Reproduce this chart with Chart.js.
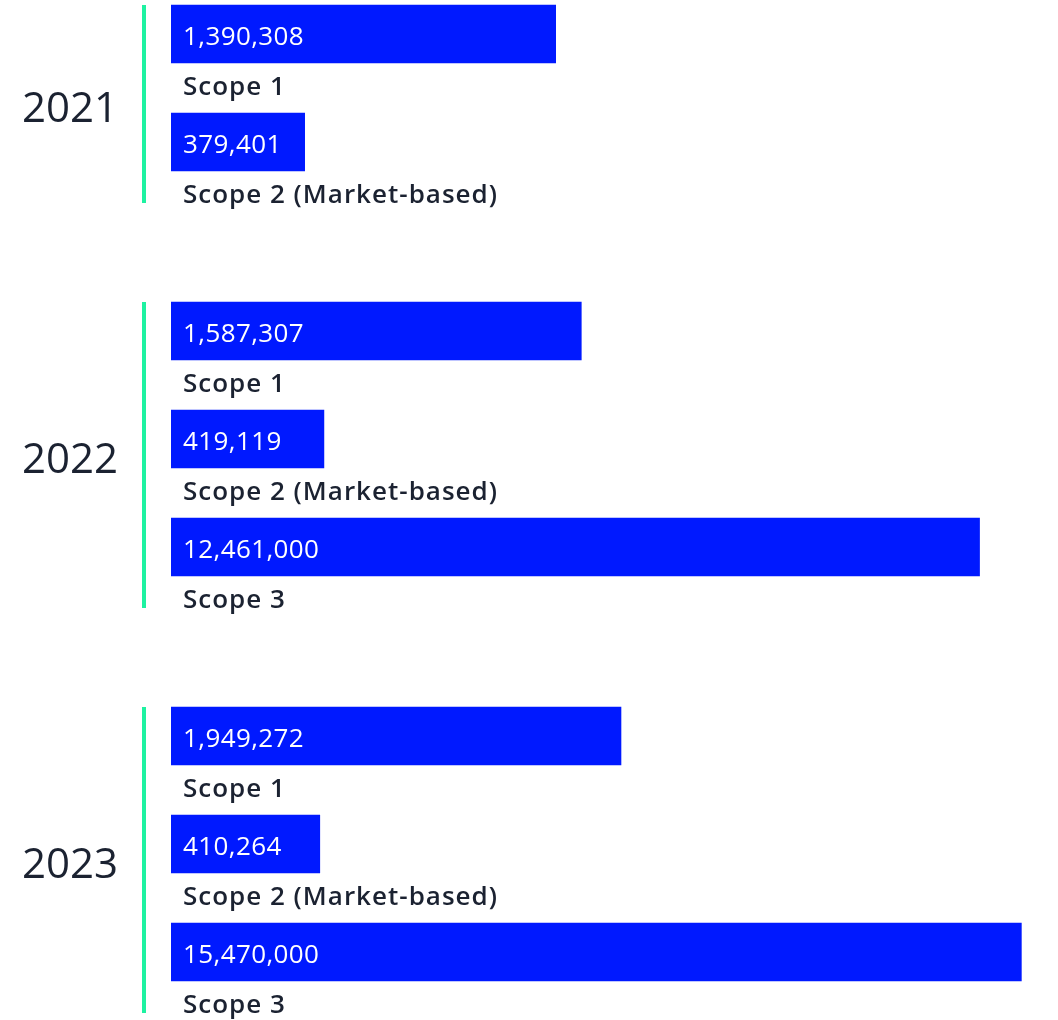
<!DOCTYPE html>
<html>
<head>
<meta charset="utf-8">
<script src="https://cdn.jsdelivr.net/npm/chart.js@4.4.1/dist/chart.umd.min.js"></script>
<style>
  html, body { margin:0; padding:0; background:#fff; overflow:hidden; }
  #wrap { position:relative; width:1058px; height:1020px; }
  #wrap canvas { position:absolute; left:0; }
</style>
</head>
<body>
<div id="wrap">
  <canvas id="c2021" width="1058" height="261" style="top:-20px"></canvas>
  <canvas id="c2022" width="1058" height="369" style="top:277px"></canvas>
  <canvas id="c2023" width="1058" height="369" style="top:682px"></canvas>
</div>
<script>
// ----------------- DATOS -----------------
const years = ['2021', '2022', '2023'];
const scopes2021 = ['Scope 1', 'Scope 2 (Market-based)'];
const scopes = ['Scope 1', 'Scope 2 (Market-based)', 'Scope 3'];
const values2021 = [1390308, 379401];
const values2022 = [1587307, 419119, 12461000];
const values2023 = [1949272, 410264, 15470000];

const BLUE = '#0019ff';
const GREEN = '#1ef2a1';
const INK = '#1b2231';
const FONT = '"Open Sans", sans-serif';

// ----------------- PLUGIN: textos, año y línea verde -----------------
const decoPlugin = {
  id: 'deco',
  afterDatasetsDraw(chart, args, opts) {
    const ctx = chart.ctx;
    const area = chart.chartArea;
    const meta = chart.getDatasetMeta(0);
    const labels = chart.data.labels;
    ctx.save();
    meta.data.forEach((bar, i) => {
      const p = bar.getProps(['x', 'y', 'base', 'height'], true);
      const val = chart.data.datasets[0].data[i];
      // valor dentro de la barra
      ctx.fillStyle = '#fff';
      ctx.font = '400 26px ' + FONT;
      ctx.letterSpacing = '0.4px';
      ctx.textAlign = 'left';
      ctx.textBaseline = 'alphabetic';
      ctx.fillText(val.toLocaleString('en-US'), p.base + 12, p.y + 11);
      // etiqueta debajo
      ctx.fillStyle = INK;
      ctx.font = '600 26px ' + FONT;
      ctx.letterSpacing = '1px';
      ctx.fillText(labels[i], p.base + 12, p.y + p.height / 2 + 32);
    });
    ctx.letterSpacing = '0px';
    // linea verde
    const lineTop = area.top + 25;
    const lineBot = area.bottom + 7;
    ctx.fillStyle = GREEN;
    ctx.fillRect(area.left - 29, lineTop, 4, lineBot - lineTop);
    // año
    ctx.fillStyle = INK;
    ctx.font = '400 42px ' + FONT;
    ctx.textAlign = 'right';
    ctx.textBaseline = 'middle';
    ctx.fillText(opts.year, area.left - 53, (lineTop + lineBot) / 2 + 6);
    ctx.restore();
  }
};

function crearGrafico(id, year, labels, values) {
  return new Chart(document.getElementById(id), {
    type: 'bar',
    data: {
      labels: labels,
      datasets: [{
        data: values,
        backgroundColor: BLUE,
        borderWidth: 0,
        barThickness: 58
      }]
    },
    options: {
      indexAxis: 'y',
      responsive: false,
      animation: false,
      layout: { padding: { left: 171, right: 0, top: 0, bottom: 45 } },
      scales: {
        x: { type: 'logarithmic', min: 190000, max: 18700000, display: false },
        y: { display: false }
      },
      plugins: {
        legend: { display: false },
        tooltip: { enabled: false },
        deco: { year: year }
      }
    },
    plugins: [decoPlugin]
  });
}

crearGrafico('c2021', years[0], scopes2021, values2021);
crearGrafico('c2022', years[1], scopes, values2022);
crearGrafico('c2023', years[2], scopes, values2023);
</script>
</body>
</html>
